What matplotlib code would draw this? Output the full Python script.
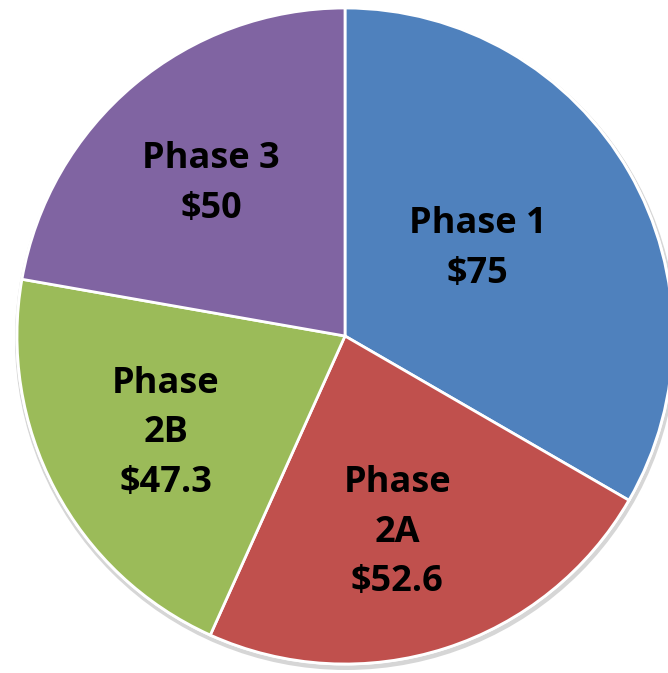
import matplotlib.pyplot as plt
from matplotlib.patches import Circle

# Funding by phase
phases = ['Phase 1', 'Phase\n2A', 'Phase\n2B', 'Phase 3']
amounts = [75, 52.6, 47.3, 50]
colors = ['#4F81BD', '#C0504D', '#9BBB59', '#8064A2']

# label centres, as fractions of the radius from the pie centre
label_pos = [(0.405, 0.265), (0.159, -0.600), (-0.546, -0.296), (-0.409, 0.464)]

W, H = 668, 673
cx, cy, r = 345, H - 336, 328

fig = plt.figure(figsize=(W / 100, H / 100), dpi=100)
ax = fig.add_axes([0, 0, 1, 1])

# soft shadow behind the pie
ax.add_patch(Circle((cx + 1, cy - 3), r + 3, facecolor='#d6d6d6', edgecolor='none', zorder=0))
ax.add_patch(Circle((cx, cy), r + 1.5, facecolor='white', edgecolor='none', zorder=0.5))

ax.pie(amounts, colors=colors, startangle=90, counterclock=False,
       center=(cx, cy), radius=r, frame=True,
       wedgeprops=dict(edgecolor='white', linewidth=2))
ax.set_xlim(0, W)
ax.set_ylim(0, H)
ax.set_aspect('equal')
ax.axis('off')

for name, amt, (fx, fy) in zip(phases, amounts, label_pos):
    ax.text(cx + fx * r, cy + fy * r, f'{name}\n${amt:g}', ha='center', va='center',
            fontsize=26, fontweight='bold', family=['Open Sans', 'DejaVu Sans'],
            linespacing=1.5, color='black')

fig.savefig('out.png', dpi=100)
